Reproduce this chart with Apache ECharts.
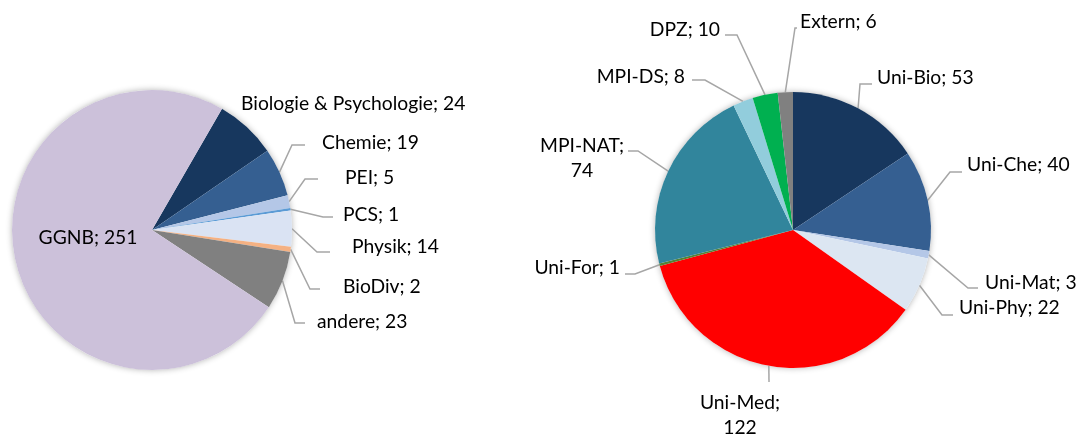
<!DOCTYPE html>
<html>
<head>
<meta charset="utf-8">
<script src="https://cdn.jsdelivr.net/npm/echarts@6/dist/echarts.min.js"></script>
<style>
  html, body { margin: 0; padding: 0; background: #fff; }
  #chart { width: 1078px; height: 436px; }
</style>
</head>
<body>
<div id="chart"></div>
<script>
// left pie
const leftNames = ['Biologie & Psychologie', 'Chemie', 'PEI', 'PCS', 'Physik', 'BioDiv', 'andere', 'GGNB']
const leftValues = [24, 19, 5, 1, 14, 2, 23, 251]
const leftColors = ['#17375e', '#355f91', '#b4c7e7', '#5b9bd5', '#dae3f3', '#f4b183', '#808080', '#ccc1da']

// right pie
const rightNames = ['Uni-Bio', 'Uni-Che', 'Uni-Mat', 'Uni-Phy', 'Uni-Med', 'Uni-For', 'MPI-NAT', 'MPI-DS', 'DPZ', 'Extern']
const rightValues = [53, 40, 3, 22, 122, 1, 74, 8, 10, 6]
const rightColors = ['#17375e', '#355f91', '#b4c7e7', '#dce6f2', '#ff0000', '#548235', '#31859c', '#92cddc', '#00b050', '#808080']

// label placement (pos = text anchor, end/elbow = leader line, relative)
const leftLabels = [
  { pos: [241, 104], align: 'left' },
  { pos: [322, 143], align: 'left', end: [-17, 2], elbow: [-13, 0] },
  { pos: [345, 178], align: 'left', end: [-27, 1], elbow: [-13, 0] },
  { pos: [343, 215], align: 'left', end: [-10, 2], elbow: [-10, 0] },
  { pos: [352, 247], align: 'left', end: [-22, 5], elbow: [-13, 0] },
  { pos: [343, 287], align: 'left', end: [-23, 2], elbow: [-10, 0] },
  { pos: [317, 322], align: 'left', end: [-12, 1], elbow: [-10, 0] },
  { pos: [88, 238], align: 'center' }
]
const rightLabels = [
  { pos: [877, 78], align: 'left', end: [-5, 6], elbow: [-12, 0] },
  { pos: [967, 165], align: 'left', end: [-5, 7], elbow: [-12, 0] },
  { pos: [985, 283], align: 'left', end: [-7, 5], elbow: [-10, 0] },
  { pos: [959, 308], align: 'left', end: [-6, 7], elbow: [-11, 0] },
  { pos: [740, 415], align: 'center', wrap: true, end: [29, -33], elbow: [0, 0] },
  { pos: [620, 268], align: 'right', end: [5, 6], elbow: [10, 0] },
  { pos: [582, 158], align: 'center', wrap: true, end: [46, -7], elbow: [10, 0] },
  { pos: [685, 77], align: 'right', end: [7, 3], elbow: [13, 0] },
  { pos: [720, 30], align: 'right', end: [5, 5], elbow: [12, 0] },
  { pos: [800, 22], align: 'left', end: [-3, 6], elbow: [-2, 0] }
]

const chart = echarts.init(document.getElementById('chart'))

function buildData (names, values, colors, labels) {
  return names.map(function (n, i) {
    return {
      name: n,
      value: values[i],
      itemStyle: { color: colors[i] },
      labelLine: { show: !!labels[i].end }
    }
  })
}

function makeLayout (labels) {
  return function (params) {
    const t = labels[params.dataIndex]
    const out = { x: t.pos[0], y: t.pos[1], align: t.align, verticalAlign: 'middle' }
    if (t.end && params.labelLinePoints) {
      const a = params.labelLinePoints[0]
      const end = [t.pos[0] + t.end[0], t.pos[1] + t.end[1]]
      const elbow = [end[0] + t.elbow[0], end[1] + t.elbow[1]]
      out.labelLinePoints = [a, elbow, end]
    }
    return out
  }
}

function makeFormatter (labels) {
  return function (p) {
    const sep = labels[p.dataIndex].wrap ? ';\n' : '; '
    return p.name + sep + p.value
  }
}

function sum (arr) {
  return arr.reduce(function (s, v) { return s + v }, 0)
}

const labelStyle = {
  show: true,
  position: 'outside',
  fontFamily: 'Lato',
  fontSize: 19.3,
  lineHeight: 25,
  color: '#000'
}

function pieSeries (center, radius, startAngle, names, values, colors, labels) {
  return {
    type: 'pie',
    center: center,
    radius: radius,
    startAngle: startAngle,
    clockwise: true,
    avoidLabelOverlap: false,
    animation: false,
    z: 3,
    itemStyle: { borderWidth: 0 },
    emphasis: { disabled: true },
    label: Object.assign({}, labelStyle, { formatter: makeFormatter(labels) }),
    labelLine: {
      show: true,
      length: 10,
      length2: 10,
      lineStyle: { color: '#a6a6a6', width: 1.5 }
    },
    labelLayout: makeLayout(labels),
    data: buildData(names, values, colors, labels)
  }
}

// soft halo under each pie
function haloSeries (center, radius, values) {
  return {
    type: 'pie',
    center: center,
    radius: radius,
    silent: true,
    animation: false,
    z: 1,
    label: { show: false },
    labelLine: { show: false },
    itemStyle: { color: '#fff', shadowBlur: 6, shadowColor: 'rgba(0,0,0,0.3)' },
    data: [{ name: '', value: sum(values) }]
  }
}

const option = {
  backgroundColor: '#fff',
  series: [
    haloSeries([152, 230], 140, leftValues),
    haloSeries([793, 230], 138, rightValues),
    pieSeries([152, 230], 140, 60, leftNames, leftValues, leftColors, leftLabels),
    pieSeries([793, 230], 138, 90, rightNames, rightValues, rightColors, rightLabels)
  ]
}
chart.setOption(option)
</script>
</body>
</html>
